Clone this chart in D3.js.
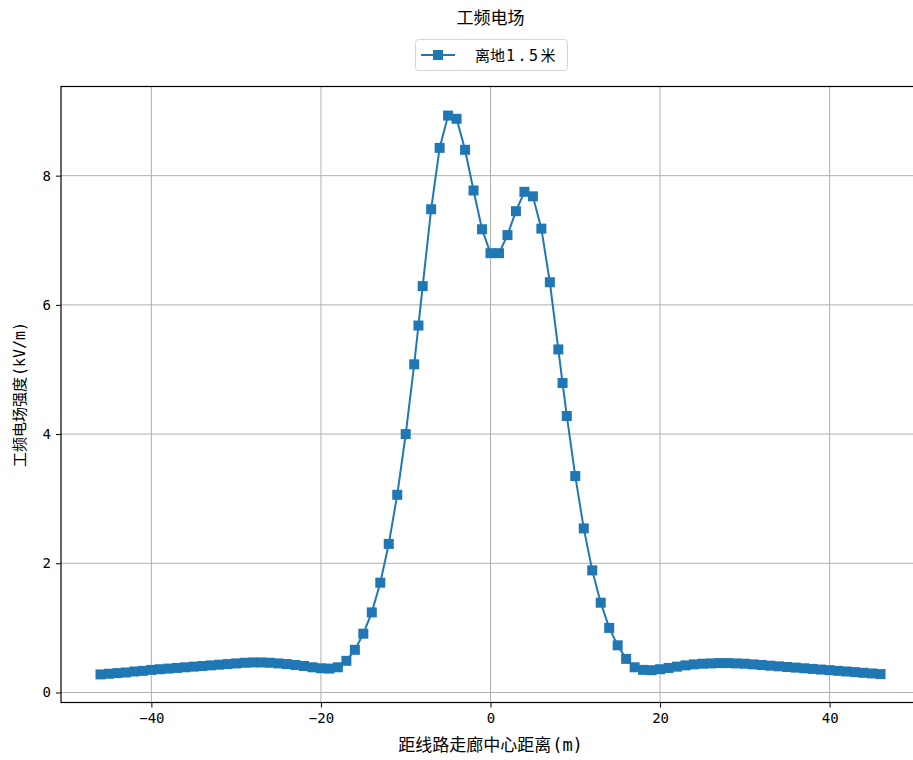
<!DOCTYPE html>
<html>
<head>
<meta charset="utf-8">
<script src="https://cdn.jsdelivr.net/npm/d3@7"></script>
<style>
  body { margin: 0; background: #fff; }
  svg text { font-family: "Noto Sans CJK SC", "DejaVu Sans", sans-serif; fill: #000; }
</style>
</head>
<body>
<svg id="chart" width="913" height="760"></svg>
<script>
const title = "工频电场";
const seriesName = "离地1.5米";
const xLabel = "距线路走廊中心距离(m)";
const yLabel = "工频电场强度(kV/m)";

const distance = [
  -46, -45, -44, -43, -42, -41, -40, -39, -38, -37, -36, -35, -34, -33, -32, -31, -30,
  -29, -28, -27, -26, -25, -24, -23, -22, -21, -20, -19, -18, -17, -16, -15, -14, -13,
  -12, -11, -10, -9, -8.5, -8, -7, -6, -5, -4, -3, -2, -1, 0, 1, 2, 3, 4, 5, 6, 7, 8,
  8.5, 9, 10, 11, 12, 13, 14, 15, 16, 17, 18, 19, 20, 21, 22, 23, 24, 25, 26, 27, 28,
  29, 30, 31, 32, 33, 34, 35, 36, 37, 38, 39, 40, 41, 42, 43, 44, 45, 46
];
const field = [
  0.28, 0.29, 0.30, 0.31, 0.325, 0.335, 0.35, 0.36, 0.37, 0.38, 0.39, 0.40, 0.41, 0.42, 0.43, 0.44, 0.45,
  0.46, 0.465, 0.465, 0.46, 0.45, 0.44, 0.425, 0.41, 0.39, 0.375, 0.37, 0.39, 0.49, 0.66, 0.91, 1.24, 1.70,
  2.30, 3.06, 4.00, 5.08, 5.68, 6.29, 7.48, 8.43, 8.93, 8.88, 8.40, 7.77, 7.17, 6.80, 6.80, 7.08, 7.45, 7.75, 7.68, 7.18, 6.35, 5.31,
  4.79, 4.28, 3.35, 2.54, 1.89, 1.39, 1.00, 0.73, 0.52, 0.39, 0.35, 0.345, 0.36, 0.38, 0.40, 0.42, 0.435, 0.445, 0.45, 0.455, 0.455,
  0.45, 0.445, 0.435, 0.425, 0.415, 0.405, 0.395, 0.385, 0.375, 0.365, 0.355, 0.345, 0.335, 0.325, 0.315, 0.305, 0.295, 0.285
];
const xTicks = [-40, -20, 0, 20, 40];
const yTicks = [0, 2, 4, 6, 8];

const color = "#1f77b4";
const MONO = "'DejaVu Sans Mono', 'Liberation Mono', monospace";
const svg = d3.select("#chart");
const L = 61, R = 920, T = 86.5, B = 702.5;

const x = d3.scaleLinear().domain([-50.66, 50.66]).range([L, R]);
const y = d3.scaleLinear().domain([-0.155, 9.38]).range([B, T]);

// mixed text: ASCII in a half-width mono font, CJK in Noto Sans CJK
function mixed(sel, str) {
  const parts = str.match(/[\x00-\x7F]+|[^\x00-\x7F]+/g) || [];
  parts.forEach(p => {
    const t = sel.append("tspan").text(p);
    if (/^[\x00-\x7F]+$/.test(p)) t.style("font-family", MONO).attr("dx", 1);
  });
  return sel;
}

// grid
const g = svg.append("g");
g.selectAll(".vg").data(xTicks).enter().append("line")
  .attr("x1", d => x(d)).attr("x2", d => x(d)).attr("y1", T).attr("y2", B)
  .attr("stroke", "#b0b0b0").attr("stroke-width", 1);
g.selectAll(".hg").data(yTicks).enter().append("line")
  .attr("x1", L).attr("x2", R).attr("y1", d => y(d)).attr("y2", d => y(d))
  .attr("stroke", "#b0b0b0").attr("stroke-width", 1);

// axes
const xAxis = d3.axisBottom(x).tickValues(xTicks).tickSize(5).tickPadding(6)
  .tickFormat(d => d < 0 ? "\u2212" + Math.abs(d) : d);
const yAxis = d3.axisLeft(y).tickValues(yTicks).tickSize(5).tickPadding(5);
const xa = svg.append("g").attr("transform", `translate(0,${B})`).call(xAxis);
const ya = svg.append("g").attr("transform", `translate(${L},0)`).call(yAxis);
[xa, ya].forEach(a => {
  a.select(".domain").remove();
  a.selectAll("text").style("font-size", "14px").style("font-family", MONO).attr("fill", "#222");
  a.selectAll("line").attr("stroke", "#000").attr("stroke-width", 1);
});

// line + markers
svg.append("clipPath").attr("id", "clip").append("rect")
  .attr("x", L).attr("y", T).attr("width", R - L).attr("height", B - T);
const data = distance.map((d, i) => ({ x: d, y: field[i] }));
const plot = svg.append("g").attr("clip-path", "url(#clip)");
plot.append("path").datum(data)
  .attr("fill", "none").attr("stroke", color).attr("stroke-width", 2)
  .attr("d", d3.line().x(d => x(d.x)).y(d => y(d.y)));
const ms = 10;
plot.selectAll(".m").data(data).enter().append("rect")
  .attr("x", d => x(d.x) - ms / 2).attr("y", d => y(d.y) - ms / 2)
  .attr("width", ms).attr("height", ms).attr("fill", color);

// frame
svg.append("rect").attr("x", L).attr("y", T).attr("width", R - L).attr("height", B - T)
  .attr("fill", "none").attr("stroke", "#000").attr("stroke-width", 1.2);

// title
svg.append("text").attr("x", 490.5).attr("y", 24).attr("text-anchor", "middle")
  .style("font-size", "17px").text(title);

// legend
const lg = svg.append("g");
lg.append("rect").attr("x", 415.5).attr("y", 39.5).attr("width", 152).attr("height", 31).attr("rx", 3)
  .attr("fill", "#fff").attr("stroke", "#d6d6d6");
lg.append("line").attr("x1", 421).attr("x2", 455).attr("y1", 55).attr("y2", 55)
  .attr("stroke", color).attr("stroke-width", 2);
lg.append("rect").attr("x", 438 - ms / 2).attr("y", 55 - ms / 2).attr("width", ms).attr("height", ms).attr("fill", color);
const lt = lg.append("text").attr("x", 475).attr("y", 60.5).style("font-size", "15px");
mixed(lt, seriesName);
lt.selectAll("tspan").filter(function(){ return /^[\x00-\x7F]+$/.test(this.textContent); })
  .style("letter-spacing", "2.5px");

// axis labels
mixed(svg.append("text").attr("x", 490.5).attr("y", 751).attr("text-anchor", "middle")
  .style("font-size", "17px"), xLabel);
mixed(svg.append("text").attr("transform", `translate(25,${(T + B) / 2}) rotate(-90)`)
  .attr("text-anchor", "middle").style("font-size", "15px"), yLabel);
</script>
</body>
</html>
